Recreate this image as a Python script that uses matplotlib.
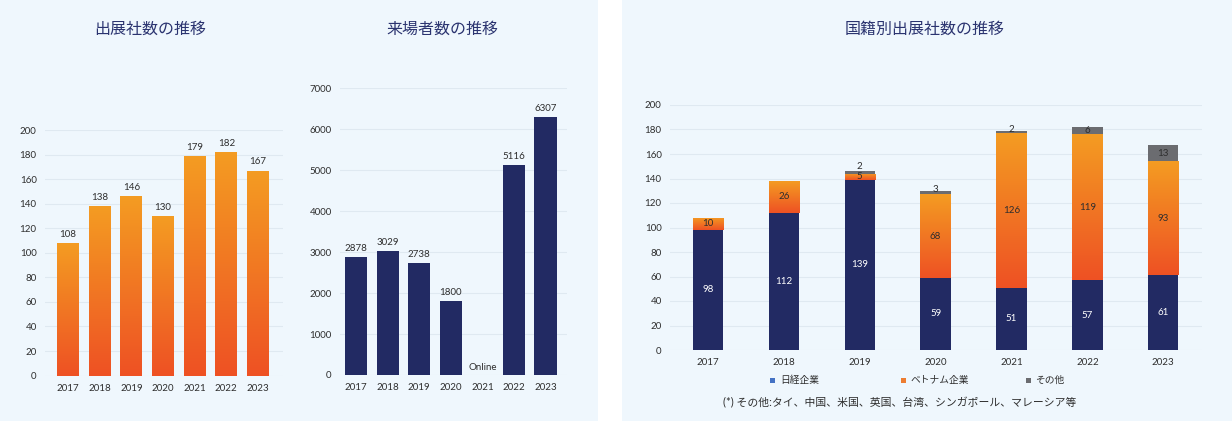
import numpy as np
import matplotlib
matplotlib.use("Agg")
import matplotlib.pyplot as plt
from matplotlib.colors import LinearSegmentedColormap
from matplotlib.patches import Rectangle

plt.rcParams['font.family'] = ['Lato', 'Noto Sans CJK JP', 'DejaVu Sans']

# data
years = ['2017', '2018', '2019', '2020', '2021', '2022', '2023']
exhibitors = [108, 138, 146, 130, 179, 182, 167]
visitors = [2878, 3029, 2738, 1800, np.nan, 5116, 6307]
nikkei = [98, 112, 139, 59, 51, 57, 61]
vietnam = [10, 26, 5, 68, 126, 119, 93]
others = [0, 0, 2, 3, 2, 6, 13]

title1 = '出展社数の推移'
title2 = '来場者数の推移'
title3 = '国籍別出展社数の推移'
legend_labels = ['日経企業', 'ベトナム企業', 'その他']
footnote = '(*) その他:タイ、中国、米国、英国、台湾、シンガポール、マレーシア等'

# colours
bg = '#eff7fd'
grid_c = '#dfe9f1'
navy = '#222a63'
orange_top = '#f49c22'
orange_bot = '#ee5124'
gray = '#6b6c70'
title_c = '#2b3470'
text_c = '#2e2e2e'

W, H = 1232, 424
fig = plt.figure(figsize=(W / 100, H / 100), dpi=100, facecolor='white')

# panel backgrounds
fig.patches.append(Rectangle((0, 3 / H), 598 / W, 1 - 3 / H, transform=fig.transFigure,
                             facecolor=bg, edgecolor='none', zorder=-10))
fig.patches.append(Rectangle((622 / W, 3 / H), 1 - 622 / W, 1 - 3 / H, transform=fig.transFigure,
                             facecolor=bg, edgecolor='none', zorder=-10))


def px_axes(x0, x1, y0, y1):
    # pixel box (top-left origin) -> axes
    return fig.add_axes([x0 / W, 1 - y1 / H, (x1 - x0) / W, (y1 - y0) / H])


def style(ax, ymax, step):
    ax.set_facecolor('none')
    for s in ax.spines.values():
        s.set_visible(False)
    ax.set_ylim(0, ymax)
    ax.set_yticks(np.arange(0, ymax + 1, step))
    ax.yaxis.grid(True, color=grid_c, linewidth=0.8)
    ax.set_axisbelow(True)
    ax.tick_params(length=0, labelsize=7, colors=text_c)
    ax.tick_params(axis='y', pad=6)
    ax.tick_params(axis='x', pad=6)


def grad_fill(ax, rect):
    x, y = rect.get_x(), rect.get_y()
    w, h = rect.get_width(), rect.get_height()
    if h <= 0:
        return
    cmap = LinearSegmentedColormap.from_list('g', [orange_bot, orange_top])
    im = ax.imshow(np.linspace(0, 1, 256).reshape(-1, 1), cmap=cmap, origin='lower',
                   extent=[x, x + w, y, y + h], aspect='auto', zorder=rect.get_zorder() + 0.1)
    im.set_clip_path(rect)


xs = np.arange(len(years))

# chart 1: exhibitors
ax1 = px_axes(45, 283, 130, 375.6)
style(ax1, 200, 20)
bars = ax1.bar(xs, exhibitors, width=0.69, color=orange_top, zorder=2)
for b in bars:
    grad_fill(ax1, b)
for x, v in zip(xs, exhibitors):
    ax1.annotate(str(v), (x, v), xytext=(0, 3), textcoords='offset points',
                 ha='center', va='bottom', fontsize=7, color=text_c)
ax1.set_xticks(xs)
ax1.set_xticklabels(years)
ax1.set_xlim(-0.726, 6.79)
ax1.set_ylim(0, 200)
fig.text(150 / W, 1 - 29 / H, title1, ha='center', va='center', fontsize=11.5, color=title_c)

# chart 2: visitors
ax2 = px_axes(340, 567, 88.3, 375)
style(ax2, 7000, 1000)
ax2.bar(xs, np.nan_to_num(visitors), width=0.7, color=navy, zorder=2)
for x, v in zip(xs, visitors):
    if np.isnan(v):
        ax2.annotate('Online', (x, 0), xytext=(0, 2), textcoords='offset points',
                     ha='center', va='bottom', fontsize=7, color=text_c)
    else:
        ax2.annotate(str(int(v)), (x, v), xytext=(0, 3), textcoords='offset points',
                     ha='center', va='bottom', fontsize=7, color=text_c)
ax2.set_xticks(xs)
ax2.set_xticklabels(years)
ax2.set_xlim(-0.51, 6.68)
fig.text(442 / W, 1 - 29 / H, title2, ha='center', va='center', fontsize=11.5, color=title_c)

# chart 3: by nationality (stacked)
ax3 = px_axes(670, 1202, 105, 350)
style(ax3, 200, 20)
nk = np.array(nikkei)
vn = np.array(vietnam)
ot = np.array(others)
bw = 0.4
ax3.bar(xs, nk, width=bw, color=navy, zorder=2)
vbars = ax3.bar(xs, vn, width=bw, bottom=nk, color=orange_top, zorder=2)
for b in vbars:
    grad_fill(ax3, b)
ax3.bar(xs, ot, width=bw, bottom=nk + vn, color=gray, zorder=2)
for x in xs:
    ax3.text(x, nk[x] / 2, str(nk[x]), ha='center', va='center', fontsize=7, color='white', zorder=5)
    ax3.text(x, nk[x] + vn[x] / 2, str(vn[x]), ha='center', va='center', fontsize=7,
             color=text_c, zorder=5)
    if ot[x] > 0:
        top = nk[x] + vn[x] + ot[x]
        if ot[x] >= 5:
            ax3.text(x, top - ot[x] / 2, str(ot[x]), ha='center', va='center', fontsize=7,
                     color=text_c, zorder=5)
        elif vn[x] < 8:
            ax3.text(x, top + 4, str(ot[x]), ha='center', va='center', fontsize=7,
                     color=text_c, zorder=5)
        else:
            ax3.text(x, top + 0.8, str(ot[x]), ha='center', va='center', fontsize=7,
                     color=text_c, zorder=5)
ax3.set_xticks(xs)
ax3.set_xticklabels(years)
ax3.set_xlim(-0.5, 6.51)
ax3.set_ylim(0, 200)
fig.text(925 / W, 1 - 29 / H, title3, ha='center', va='center', fontsize=11.5, color=title_c)

# legend
leg_cols = ['#4472c4', '#ed7d31', gray]
leg_x = [773, 903, 1028]
for lx, lc, lt in zip(leg_x, leg_cols, legend_labels):
    fig.patches.append(Rectangle(((lx - 2.5) / W, 1 - (380 + 2.5) / H), 5 / W, 5 / H,
                                 transform=fig.transFigure, facecolor=lc, edgecolor='none'))
    fig.text((lx + 7) / W, 1 - 380 / H, lt, ha='left', va='center', fontsize=7, color=text_c)

fig.text(900 / W, 1 - 403 / H, footnote, ha='center', va='center', fontsize=7.8, color=text_c)

fig.savefig('out.png', dpi=100, facecolor='white')
